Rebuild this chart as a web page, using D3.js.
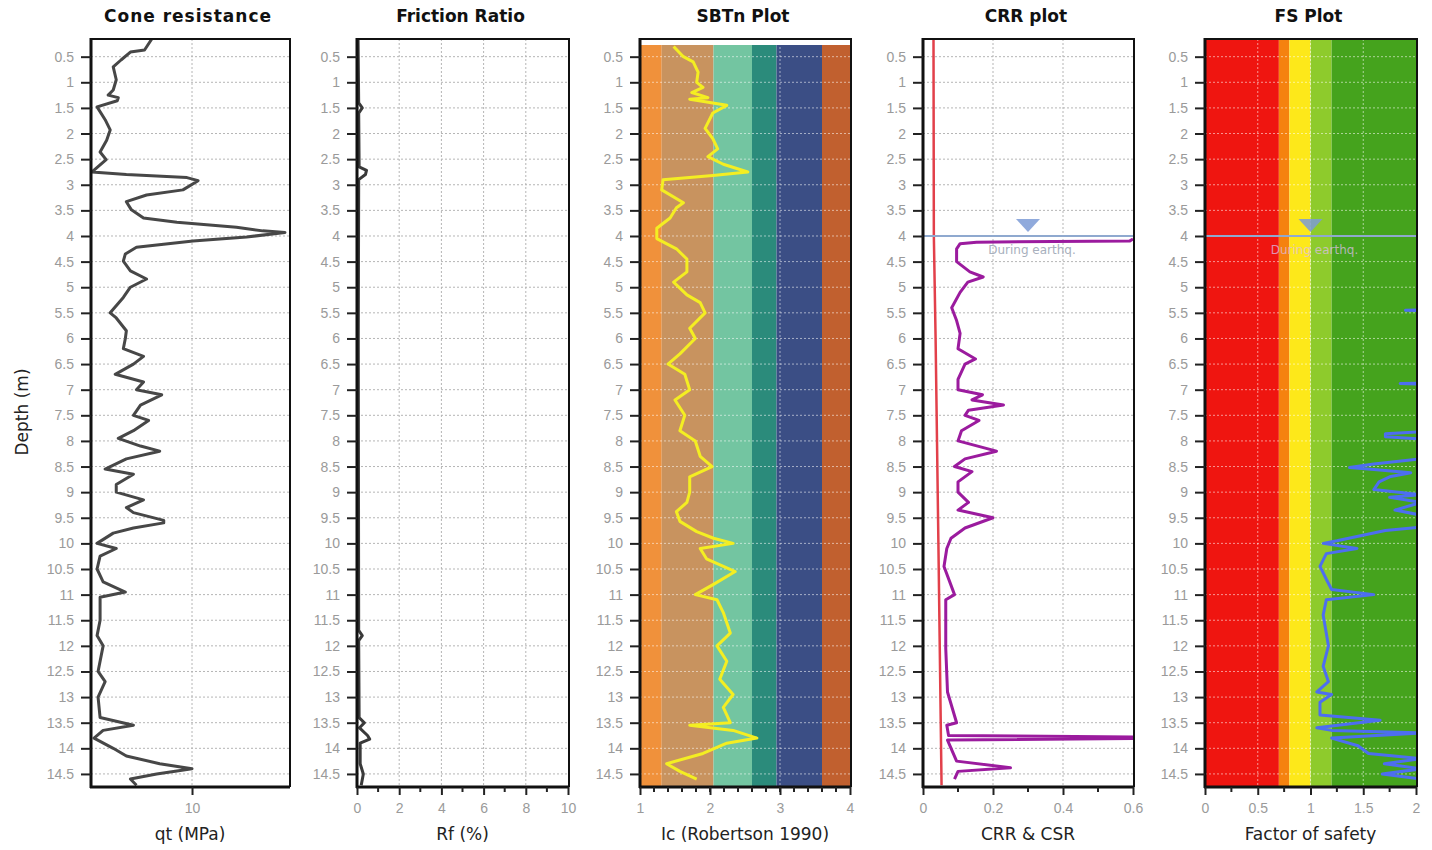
<!DOCTYPE html>
<html lang="en">
<head>
  <meta charset="UTF-8">
  <title>CPT liquefaction plots</title>
  <style>
    body { margin: 0; background: #fff; }
    svg { display: block; font-family: "DejaVu Sans", Verdana, sans-serif; }
    .tick-label { fill: #9a9a9a; font-size: 14px; }
    .panel-title { font-weight: bold; font-size: 17px; fill: #111; }
    .axis-title { font-size: 17px; fill: #222; }
  </style>
</head>
<body>
<div class="chart"></div>
<script src="https://cdn.jsdelivr.net/npm/d3@7"></script>
<script>
  // depth (m) / value pairs
  const qtProfile = [
    [0.16, 6.0], [0.37, 5.3], [0.41, 3.9], [0.56, 3.0], [0.7, 2.2], [0.95, 2.5], [1.15, 2.2], [1.25, 1.7],
    [1.3, 2.7], [1.36, 2.6], [1.48, 0.6], [1.73, 1.4], [1.93, 1.9], [2.13, 1.55], [2.36, 0.9], [2.51, 1.5],
    [2.75, 0.1], [2.8, 3.5], [2.86, 9.5], [2.92, 10.6], [3.1, 9.1], [3.2, 5.5], [3.33, 3.5], [3.49, 4.0],
    [3.65, 5.2], [3.73, 8.5], [3.83, 14.4], [3.9, 17.0], [3.93, 19.2], [4.02, 15.4], [4.1, 10.1], [4.22, 4.5],
    [4.35, 3.4], [4.49, 3.2], [4.68, 3.9], [4.84, 5.5], [5.0, 3.9], [5.2, 3.2], [5.5, 1.9], [5.6, 2.5],
    [5.85, 3.5], [6.0, 3.4], [6.2, 3.2], [6.35, 5.2], [6.5, 4.2], [6.7, 2.4], [6.85, 5.2], [7.0, 4.5],
    [7.1, 7.0], [7.3, 4.9], [7.5, 4.2], [7.6, 5.7], [7.8, 4.2], [7.95, 2.7], [8.1, 4.9], [8.2, 6.8],
    [8.35, 3.5], [8.55, 1.4], [8.65, 4.2], [8.85, 2.5], [9.0, 2.5], [9.15, 5.2], [9.3, 3.5], [9.4, 4.2],
    [9.55, 7.2], [9.6, 7.2], [9.7, 4.2], [9.8, 2.2], [10.0, 0.6], [10.1, 2.5], [10.25, 0.9], [10.5, 0.6],
    [10.75, 1.2], [10.95, 3.4], [11.05, 0.9], [11.5, 0.9], [11.8, 0.6], [12.0, 1.2], [12.5, 0.7], [12.7, 1.4],
    [13.0, 0.7], [13.4, 0.9], [13.55, 4.2], [13.65, 1.2], [13.8, 0.3], [14.0, 2.2], [14.15, 3.5], [14.3, 6.8],
    [14.4, 10.0], [14.5, 6.5], [14.6, 3.9], [14.72, 4.5]
  ];

  const rfProfile = [
    [0.16, 0.05], [1.4, 0.08], [1.5, 0.25], [1.6, 0.08], [2.65, 0.1], [2.72, 0.45], [2.8, 0.4], [2.9, 0.08],
    [6.0, 0.06], [11.7, 0.08], [11.8, 0.25], [11.9, 0.08], [13.4, 0.1], [13.5, 0.35], [13.6, 0.12],
    [13.75, 0.5], [13.82, 0.6], [13.9, 0.15], [14.3, 0.15], [14.5, 0.3], [14.72, 0.2]
  ];

  const icProfile = [
    [0.3, 1.48], [0.5, 1.62], [0.6, 1.76], [0.8, 1.83], [1.0, 1.81], [1.1, 1.9], [1.2, 1.74], [1.3, 1.97],
    [1.33, 1.71], [1.45, 2.24], [1.6, 2.04], [1.9, 1.93], [2.1, 2.04], [2.3, 2.11], [2.45, 1.97], [2.6, 2.19],
    [2.75, 2.54], [2.82, 2.04], [2.9, 1.33], [3.1, 1.31], [3.35, 1.62], [3.45, 1.52], [3.65, 1.43], [3.85, 1.24],
    [4.05, 1.24], [4.25, 1.52], [4.45, 1.67], [4.7, 1.67], [4.9, 1.48], [5.15, 1.67], [5.3, 1.86], [5.5, 1.93],
    [5.8, 1.71], [6.0, 1.79], [6.3, 1.57], [6.5, 1.4], [6.7, 1.64], [7.0, 1.71], [7.2, 1.5], [7.5, 1.64],
    [7.8, 1.57], [8.0, 1.79], [8.3, 1.86], [8.5, 2.03], [8.7, 1.71], [9.0, 1.71], [9.2, 1.67], [9.38, 1.52],
    [9.57, 1.57], [9.77, 1.81], [9.9, 2.05], [10.0, 2.33], [10.1, 1.86], [10.3, 1.95], [10.55, 2.36], [10.8, 2.05],
    [11.0, 1.79], [11.1, 2.1], [11.35, 2.19], [11.75, 2.29], [12.0, 2.1], [12.3, 2.24], [12.65, 2.14], [12.95, 2.33],
    [13.2, 2.19], [13.5, 2.29], [13.55, 1.71], [13.65, 2.33], [13.8, 2.67], [13.9, 2.24], [14.1, 1.9], [14.3, 1.38],
    [14.45, 1.57], [14.6, 1.81]
  ];

  const csrProfile = [[0.16, 0.03], [4.0, 0.031], [6.0, 0.036], [10.0, 0.044], [14.72, 0.053]];

  const crrProfile = [
    [4.06, 0.6], [4.1, 0.59], [4.12, 0.153], [4.15, 0.106], [4.25, 0.096], [4.5, 0.096], [4.7, 0.134], [4.8, 0.172],
    [4.9, 0.128], [5.1, 0.106], [5.4, 0.082], [5.65, 0.096], [5.9, 0.106], [6.2, 0.1], [6.4, 0.15], [6.5, 0.12],
    [6.8, 0.1], [7.0, 0.1], [7.1, 0.17], [7.2, 0.14], [7.3, 0.23], [7.4, 0.13], [7.5, 0.12], [7.6, 0.16],
    [7.8, 0.11], [8.0, 0.1], [8.2, 0.21], [8.35, 0.12], [8.5, 0.09], [8.6, 0.14], [8.8, 0.1], [9.0, 0.1],
    [9.2, 0.13], [9.35, 0.1], [9.5, 0.2], [9.7, 0.12], [9.9, 0.08], [10.1, 0.068], [10.45, 0.06], [11.0, 0.09],
    [11.1, 0.065], [12.05, 0.065], [12.9, 0.07], [13.5, 0.096], [13.55, 0.068], [13.75, 0.073], [13.78, 0.6],
    [13.81, 0.6], [13.84, 0.07], [14.25, 0.096], [14.38, 0.25], [14.45, 0.1], [14.6, 0.09]
  ];

  // values past 2 run off the right edge of the FS plot
  const fsProfile = [
    [5.4, 3], [5.45, 1.9], [5.5, 3], [6.83, 3], [6.88, 1.85], [6.93, 3],
    [7.82, 2.05], [7.86, 1.71], [7.92, 1.71], [7.96, 2.05],
    [8.35, 2.05], [8.45, 1.6], [8.52, 1.37], [8.56, 1.6], [8.62, 1.95], [8.7, 1.75], [8.8, 1.65], [8.95, 1.6],
    [9.05, 2.05], [9.1, 1.75], [9.2, 2.05], [9.35, 1.8], [9.45, 2.05], [9.68, 2.05], [9.75, 1.71], [9.95, 1.25],
    [10.0, 1.12], [10.1, 1.44], [10.2, 1.15], [10.45, 1.09], [10.7, 1.15], [10.9, 1.2], [11.0, 1.6], [11.1, 1.15],
    [11.4, 1.12], [12.0, 1.17], [12.4, 1.12], [12.7, 1.17], [12.9, 1.06], [12.95, 1.2], [13.1, 1.09], [13.35, 1.09],
    [13.45, 1.66], [13.6, 1.06], [13.65, 1.2], [13.7, 2.05], [13.8, 1.2], [13.95, 1.45], [14.1, 1.55], [14.2, 2.05],
    [14.3, 1.7], [14.4, 2.05], [14.5, 1.68], [14.6, 2.05]
  ];

  const depthTicks = d3.range(0.5, 14.51, 0.5);
  const sbtBreaks = [1, 1.31, 2.05, 2.6, 2.95, 3.6, 4];
  const sbtColors = ["#f0913b", "#c8935f", "#73c5a1", "#2b8b7b", "#3b4e85", "#c1602f"];
  const fsBreaks = [0, 0.7, 0.8, 1.0, 1.2, 2];
  const fsColors = ["#ef1510", "#f5820f", "#fde81a", "#8ecb2c", "#45a31d"];
  const waterTable = 4.0;

  const width = 1432, height = 850;
  const plotTop = 39, plotBottom = 787;

  const svg = d3.select(".chart").append("svg")
    .attr("width", width)
    .attr("height", height);

  const y = d3.scaleLinear().domain([0.155, 14.755]).range([plotTop, plotBottom]);

  const panels = [
    { title: "Cone resistance", label: "qt (MPa)", x0: 91, x1: 289, domain: [0, 19.6],
      major: [10], minor: [], grid: [10], data: qtProfile, color: "#474747", lw: 3 },
    { title: "Friction Ratio", label: "Rf (%)", x0: 357, x1: 568, domain: [0, 10],
      major: [0, 2, 4, 6, 8, 10], minor: d3.range(1, 10, 2), grid: [2, 4, 6, 8], data: rfProfile, color: "#3a3a3a", lw: 3 },
    { title: "SBTn Plot", label: "Ic (Robertson 1990)", x0: 640, x1: 850, domain: [1, 4],
      major: [1, 2, 3, 4], minor: d3.range(1.2, 4, 0.2), grid: [3], bands: [sbtBreaks, sbtColors],
      data: icProfile, color: "#f4ee22", lw: 3, light: true },
    { title: "CRR plot", label: "CRR & CSR", x0: 923, x1: 1133, domain: [0, 0.6],
      major: [0, 0.2, 0.4, 0.6], minor: [0.1, 0.3, 0.5], grid: [0.2, 0.4], data: crrProfile, color: "#9b1b9e", lw: 3,
      extra: { data: csrProfile, color: "#e2404a", lw: 2.5 }, water: 0.3 },
    { title: "FS Plot", label: "Factor of safety", x0: 1205, x1: 1416, domain: [0, 2],
      major: [0, 0.5, 1, 1.5, 2], minor: [0.25, 0.75, 1.25, 1.75], grid: [0.5, 1, 1.5], bands: [fsBreaks, fsColors],
      data: fsProfile, color: "#4d6ef0", lw: 3, light: true, water: 1.0 }
  ];

  panels.forEach((p, i) => {
    const x = d3.scaleLinear().domain(p.domain).range([p.x0, p.x1]);
    const g = svg.append("g");

    g.append("clipPath").attr("id", "clip" + i)
      .append("rect").attr("x", p.x0).attr("y", plotTop).attr("width", p.x1 - p.x0 + 1).attr("height", plotBottom - plotTop);

    // colour zones
    if (p.bands) {
      const [br, cols] = p.bands;
      g.selectAll(".band")
        .data(cols)
        .enter()
        .append("rect")
        .attr("x", (d, j) => x(br[j]))
        .attr("y", i === 2 ? plotTop + 6 : plotTop)
        .attr("width", (d, j) => x(br[j + 1]) - x(br[j]))
        .attr("height", i === 2 ? plotBottom - plotTop - 6 : plotBottom - plotTop)
        .attr("fill", d => d);
    }

    const gridColor = p.light ? "rgba(255,255,255,0.55)" : "#b5b5b5";
    g.selectAll(".hgrid")
      .data(depthTicks)
      .enter()
      .append("line")
      .attr("x1", p.x0).attr("x2", p.x1)
      .attr("y1", d => y(d)).attr("y2", d => y(d))
      .attr("stroke", gridColor)
      .attr("stroke-dasharray", "2,2");

    g.selectAll(".vgrid")
      .data(p.grid)
      .enter()
      .append("line")
      .attr("x1", d => x(d)).attr("x2", d => x(d))
      .attr("y1", plotTop).attr("y2", plotBottom)
      .attr("stroke", gridColor)
      .attr("stroke-dasharray", "2,2");

    const line = d3.line()
      .x(d => x(d[1]))
      .y(d => y(d[0]));

    const plot = g.append("g").attr("clip-path", `url(#clip${i})`);

    if (p.extra) {
      plot.append("path")
        .datum(p.extra.data)
        .attr("d", line)
        .attr("fill", "none")
        .attr("stroke", p.extra.color)
        .attr("stroke-width", p.extra.lw);
    }

    plot.append("path")
      .datum(p.data)
      .attr("d", line)
      .attr("fill", "none")
      .attr("stroke", p.color)
      .attr("stroke-width", p.lw)
      .attr("stroke-linejoin", "round");

    // water table marker
    if (p.water !== undefined) {
      const wy = y(waterTable);
      const wx = x(p.water);
      g.append("line")
        .attr("x1", p.x0).attr("x2", p.x1)
        .attr("y1", wy).attr("y2", wy)
        .attr("stroke", "#8fa9cf")
        .attr("stroke-width", 2);
      g.append("path")
        .attr("d", `M${wx - 12},${wy - 17}L${wx + 12},${wy - 17}L${wx},${wy - 4}Z`)
        .attr("fill", "#7c9bd6")
        .attr("opacity", 0.85);
      g.append("text")
        .attr("x", wx + 4)
        .attr("y", wy + 18)
        .attr("text-anchor", "middle")
        .attr("font-size", 12)
        .attr("fill", i === 4 ? "rgba(220,190,230,0.75)" : "#a8b0bd")
        .text("During earthq.");
    }

    // frame
    g.append("path")
      .attr("d", `M${p.x0},${plotTop}H${p.x1 + 1}V${plotBottom}`)
      .attr("fill", "none")
      .attr("stroke", "#111")
      .attr("stroke-width", 2);

    // depth axis
    const yAxis = d3.axisLeft(y)
      .tickValues(depthTicks)
      .tickSize(10)
      .tickPadding(7)
      .tickFormat(d => (d % 1 ? d.toFixed(1) : d3.format("d")(d)));

    const ya = g.append("g")
      .attr("transform", `translate(${p.x0},0)`)
      .call(yAxis);
    ya.select(".domain").attr("stroke", "#111").attr("stroke-width", 3)
      .attr("d", `M0,${plotTop - 1}V${plotBottom + 1}`);
    ya.selectAll(".tick line").attr("stroke", "#222").attr("stroke-width", 2);
    ya.selectAll(".tick text").attr("class", "tick-label").attr("font-family", null).attr("font-size", null);

    // bottom axis
    const xa = g.append("g")
      .attr("transform", `translate(0,${plotBottom})`)
      .call(d3.axisBottom(x).tickValues(p.major).tickSize(8).tickPadding(8)
        .tickFormat(d => d3.format("~g")(d)));
    xa.select(".domain").attr("stroke", "#111").attr("stroke-width", 3)
      .attr("d", `M${p.x0 - 1},0H${p.x1 + 1}`);
    xa.selectAll(".tick line").attr("stroke", "#222").attr("stroke-width", 2);
    xa.selectAll(".tick text").attr("class", "tick-label").attr("font-family", null).attr("font-size", null);

    g.selectAll(".minor")
      .data(p.minor)
      .enter()
      .append("line")
      .attr("x1", d => x(d)).attr("x2", d => x(d))
      .attr("y1", plotBottom).attr("y2", plotBottom + 5)
      .attr("stroke", "#222")
      .attr("stroke-width", 2);

    const cx = (p.x0 + p.x1) / 2;
    g.append("text")
      .attr("class", "panel-title")
      .attr("x", cx - 2)
      .attr("y", 22)
      .attr("text-anchor", "middle")
      .attr("letter-spacing", i === 0 ? 1 : 0)
      .text(p.title);

    g.append("text")
      .attr("class", "axis-title")
      .attr("x", cx)
      .attr("y", 840)
      .attr("text-anchor", "middle")
      .text(p.label);
  });

  svg.append("text")
    .attr("class", "axis-title")
    .attr("transform", "translate(28,412) rotate(-90)")
    .attr("text-anchor", "middle")
    .text("Depth (m)");
</script>
</body>
</html>
